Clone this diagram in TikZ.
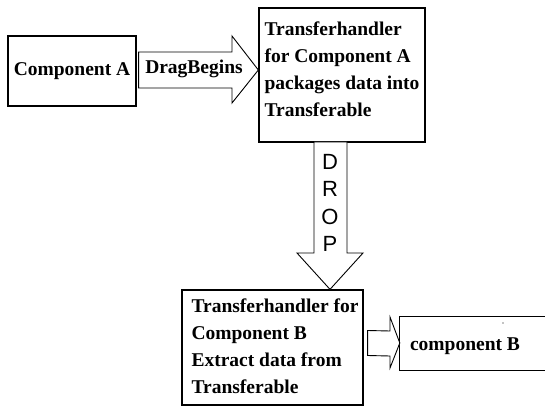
\documentclass[tikz,border=0pt]{standalone}
\usepackage{fontspec}
\setmainfont{Liberation Serif}
\newfontfamily\dropfont{Liberation Sans}
\usetikzlibrary{calc}
\begin{document}
\begin{tikzpicture}[x=1pt,y=-1pt,
  box/.style={draw, line width=1.3pt, inner sep=0pt},
  txt/.style={font=\fontsize{19.5}{27}\selectfont\bfseries, inner sep=0pt, align=left},
  blockarrow/.style={draw, line width=0.9pt, fill=white, line join=miter}]
\useasboundingbox (0,0) rectangle (545,406);

% boxes
\node[box, txt, minimum width=128pt, minimum height=70pt] (compA) at (72,71) {Component A};
\node[box, minimum width=166pt, minimum height=134pt] (thA) at (342,75) {};
\node[txt, anchor=north west] (thAtxt) at ($(thA.north west)+(6,14)$)
  {Transferhandler\\for Component A\\packages data into\\Transferable};
\node[box, minimum width=181pt, minimum height=115pt] (thB) at (272.5,347.5) {};
\node[txt, anchor=north west] (thBtxt) at ($(thB.north west)+(10,9)$)
  {Transferhandler for\\Component B\\Extract data from\\Transferable};
\node[minimum width=145pt, minimum height=53pt, inner sep=0pt] (compB) at (472.5,343.5) {};
\draw[line width=1.3pt] (compB.north east) -- (compB.north west) -- (compB.south west) -- (compB.south east);
\node[txt, anchor=west] (compBtxt) at ($(compB.west)+(10,3)$) {component B};
\fill (503,323) circle (0.7pt);

% DragBegins arrow
\draw[blockarrow] ($(compA.east)+(2,-19)$) -- (232,52) -- (232,36) -- (thA.west |- 0,70) -- (232,103) -- (232,88) -- ($(compA.east)+(2,17)$) -- cycle;
\node[txt] (drag) at (194,69) {DragBegins};

% DROP arrow
\draw[blockarrow] (314,142) -- (347,142) -- (347,253) -- (363,253) -- (thB.north -| 330,0) -- (297,253) -- (314,253) -- cycle;
\node[font=\dropfont\fontsize{22}{27.5}\selectfont, align=center, inner sep=0pt, anchor=north] (drop) at (330,154) {D\\R\\O\\P};

% arrow to component B
\draw[blockarrow] ($(thB.east)+(4,-17)$) -- (390,331) -- (390,317) -- (compB.west |- 0,343) -- (390,368) -- (390,356) -- ($(thB.east)+(4,8)$) -- cycle;
\end{tikzpicture}
\end{document}
